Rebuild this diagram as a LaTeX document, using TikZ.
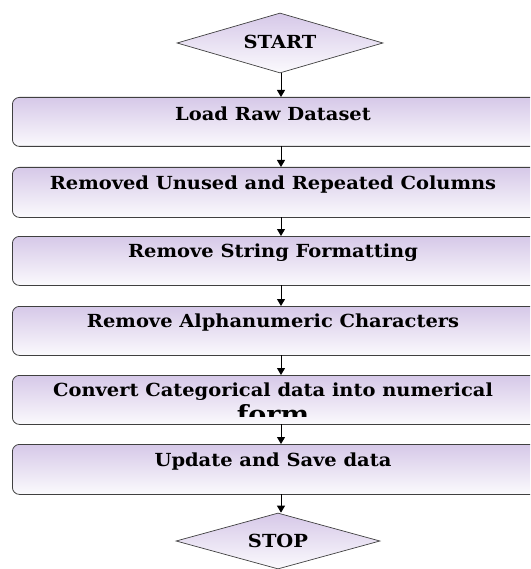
\documentclass[tikz,border=0pt]{standalone}
\usepackage{fontspec}
\setmainfont{DejaVu Serif}
\usetikzlibrary{shapes.geometric,arrows.meta}
\definecolor{lav}{HTML}{D6C8E8}
\definecolor{wht}{HTML}{FBFAFD}
\tikzset{
  stepbox/.style={draw=black!75, line width=0.8pt, rounded corners=7pt, top color=lav, bottom color=wht, anchor=north west, minimum height=#1, minimum width=530pt, inner sep=0pt},
  term/.style={draw=black!75, line width=0.7pt, diamond, top color=lav, bottom color=wht, minimum width=206pt, minimum height=60pt, inner sep=0pt, aspect=3.4},
  lbl/.style={font=\fontsize{18}{20}\selectfont\bfseries, inner sep=0pt, xscale=1.08, transform shape},
  conn/.style={-{Triangle[length=7pt,width=8pt]}, line width=1pt, black},
}
\begin{document}
\begin{tikzpicture}[x=1pt,y=-1pt]
\useasboundingbox (0,0) rectangle (530,569);
\begin{scope}
\clip (0,0) rectangle (530,569);
\node[term] (start) at (280,43) {};
\node[lbl] (tstart) at (280,42) {START};
\node[stepbox=49pt] (b1) at (12,97) {};
\node[lbl] (t1) at (273,114) {Load Raw Dataset};
\node[stepbox=50pt] (b2) at (12,167) {};
\node[lbl] (t2) at (273,185) {Removed Unused and Repeated Columns};
\node[stepbox=49pt] (b3) at (12,236) {};
\node[lbl] (t3) at (273,253) {Remove String Formatting};
\node[stepbox=49pt] (b4) at (12,306) {};
\node[lbl] (t4) at (273,323) {Remove Alphanumeric Characters};
\node[stepbox=49pt] (b5) at (12,375) {};
\node[lbl] (t5) at (273,392) {Convert Categorical data into numerical};
\begin{scope}
\clip (12,375) rectangle (530,416.5);
\node[lbl, font=\fontsize{25}{26}\selectfont\bfseries, anchor=base, xscale=1.0] (t5b) at (273,423) {form};
\end{scope}
\node[stepbox=50pt] (b6) at (12,444) {};
\node[lbl] (t6) at (273,462) {Update and Save data};
\node[term, minimum width=204pt, minimum height=56pt] (stop) at (278,541) {};
\node[lbl] (tstop) at (278,541) {STOP};
\end{scope}
\coordinate (a0) at (281,73);
\coordinate (a1) at (281,146);
\coordinate (a2) at (281,217);
\coordinate (a3) at (281,285);
\coordinate (a4) at (281,355);
\coordinate (a5) at (281,424);
\coordinate (a6) at (281,494);
\draw[conn] (a0) -- (b1.north -| a0);
\draw[conn] (a1) -- (b2.north -| a1);
\draw[conn] (a2) -- (b3.north -| a2);
\draw[conn] (a3) -- (b4.north -| a3);
\draw[conn] (a4) -- (b5.north -| a4);
\draw[conn] (a5) -- (b6.north -| a5);
\draw[conn] (a6) -- (stop.north -| a6);
\end{tikzpicture}
\end{document}
